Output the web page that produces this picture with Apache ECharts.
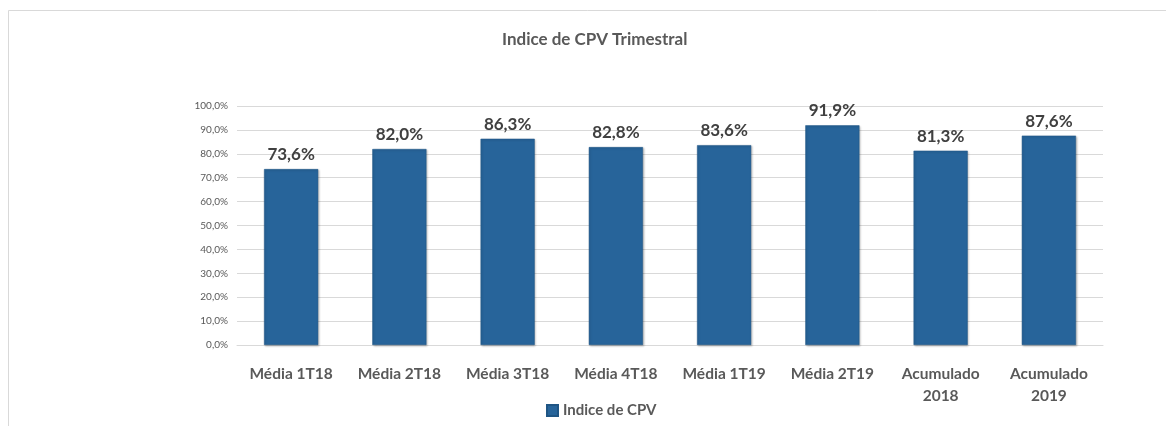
<!DOCTYPE html>
<html>
<head>
<meta charset="utf-8">
<script src="https://cdn.jsdelivr.net/npm/echarts@6/dist/echarts.min.js"></script>
<style>
  html, body { margin: 0; padding: 0; background: #fff; }
  #chart { width: 1166px; height: 426px; }
</style>
</head>
<body>
<div id="chart"></div>
<script>
var categories = ['Média 1T18', 'Média 2T18', 'Média 3T18', 'Média 4T18', 'Média 1T19', 'Média 2T19', 'Acumulado\n2018', 'Acumulado\n2019'];
var cpvValues = [73.6, 82.0, 86.3, 82.8, 83.6, 91.9, 81.3, 87.6];
var seriesName = 'Indice de CPV';

var fontFam = 'Lato, "Open Sans", sans-serif';
function pct(v) { return v.toFixed(1).replace('.', ',') + '%'; }

var chart = echarts.init(document.getElementById('chart'));
chart.setOption({
  backgroundColor: '#fff',
  animation: false,
  textStyle: { fontFamily: fontFam },
  graphic: [{
    type: 'rect',
    shape: { x: 8.5, y: 10.5, width: 1200, height: 500 },
    style: { fill: 'none', stroke: '#d9d9d9', lineWidth: 1 },
    silent: true
  }],
  title: {
    text: 'Indice de CPV Trimestral',
    left: 497,
    top: 26,
    textStyle: { fontFamily: fontFam, fontSize: 17, fontWeight: 'bold', color: '#595959' }
  },
  legend: {
    data: [seriesName],
    left: 541,
    top: 398,
    icon: 'rect',
    itemWidth: 11,
    itemHeight: 11,
    itemGap: 4,
    textStyle: { fontFamily: fontFam, fontSize: 15, fontWeight: 'bold', color: '#595959' }
  },
  grid: { left: 237, right: 63, top: 106, bottom: 81, containLabel: false },
  xAxis: {
    type: 'category',
    data: categories,
    axisLine: { lineStyle: { color: '#d9d9d9' } },
    axisTick: { show: false },
    axisLabel: {
      interval: 0,
      hideOverlap: false,
      margin: 18,
      fontFamily: fontFam, fontSize: 15.5, fontWeight: 'bold', color: '#595959', lineHeight: 22
    }
  },
  yAxis: {
    type: 'value',
    min: 0,
    max: 100,
    interval: 10,
    axisLine: { show: false },
    axisTick: { show: false },
    splitLine: { lineStyle: { color: '#d9d9d9' } },
    axisLabel: {
      margin: 9,
      fontFamily: fontFam, fontSize: 10, color: '#595959',
      formatter: function (v) { return pct(v); }
    }
  },
  series: [{
    name: seriesName,
    type: 'bar',
    data: cpvValues,
    barWidth: '50%',
    itemStyle: { color: '#27649a', borderColor: '#1f5584', borderWidth: 0.5, shadowColor: 'rgba(0,0,0,0.25)', shadowBlur: 2, shadowOffsetX: 1, shadowOffsetY: 1 },
    label: {
      show: true,
      position: 'top',
      distance: 6,
      fontFamily: fontFam, fontSize: 17, fontWeight: 'bold', color: '#404040',
      formatter: function (p) { return pct(p.value); }
    }
  }]
});
</script>
</body>
</html>
